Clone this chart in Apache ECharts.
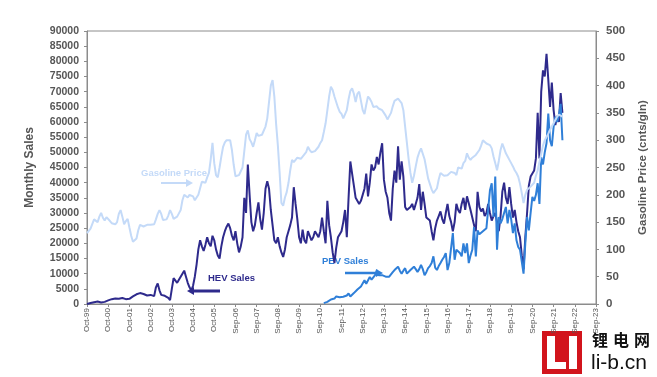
<!DOCTYPE html>
<html>
<head>
<meta charset="utf-8">
<script src="https://cdn.jsdelivr.net/npm/echarts/dist/echarts.min.js"></script>
<style>
html, body { margin: 0; padding: 0; background: #fff; }
#main { width: 657px; height: 377px; }
</style>
</head>
<body>
<div id="main"></div>
<script>
// x axis: months since Oct-99, one tick label every 12 months
var xLabels = ['Oct-99', 'Oct-00', 'Oct-01', 'Oct-02', 'Oct-03', 'Oct-04', 'Oct-05',
    'Sep-06', 'Sep-07', 'Sep-08', 'Sep-09', 'Sep-10', 'Sep-11', 'Sep-12', 'Sep-13',
    'Sep-14', 'Sep-15', 'Sep-16', 'Sep-17', 'Sep-18', 'Sep-19', 'Sep-20', 'Sep-21',
    'Sep-22', 'Sep-23'];

// HEV monthly sales, from month 0 (Oct-99)
var hevStart = 0;
var hevSales = [
    0, 100, 300, 500, 600, 900, 800, 600, 500, 600,
    700, 900, 1200, 1400, 1600, 1700, 1800, 1900, 1700, 2200,
    2000, 1800, 1600, 1700, 1700, 2100, 2500, 2900, 3200, 3400,
    3600, 3500, 3300, 3100, 2800, 3000, 3000, 2800, 2600, 5500,
    6800, 4500, 3000, 2700, 2700, 2300, 2000, 1300, 5000, 8500,
    8000, 7000, 8000, 9000, 10000, 11000, 9000, 7000, 5500, 4500,
    6000, 9000, 13000, 18000, 21000, 19000, 17500, 19500, 22000, 20000,
    19000, 22500, 21000, 18000, 16000, 15000, 19000, 22000, 24000, 25500,
    26500, 25000, 22500, 21000, 24000, 20000, 17000, 19000, 22000, 35000,
    30000, 46000, 36000, 27000, 24000, 26000, 30000, 33500, 28000, 24500,
    30000, 38000, 40500, 38000, 31000, 26000, 21000, 20000, 22000, 19000,
    17000, 15500, 18000, 22000, 24000, 26000, 28500, 38500, 33000, 28000,
    22000, 20000, 24500, 21000, 20000, 24000, 22500, 21000, 22000, 24000,
    23500, 22000, 24000, 28500, 24000, 20000, 34000, 26000, 22000, 17000,
    13500, 18500, 22000, 23000, 24000, 27000, 31000, 22000, 35000, 47000,
    43000, 39000, 35000, 34500, 33000, 34000, 33500, 38000, 43000, 35500,
    40000, 46000, 44000, 45000, 48500, 46000, 50000, 53000, 41000, 37000,
    35000, 30000, 27500, 38000, 44000, 40000, 52000, 41000, 47000, 42000,
    32000, 31000, 31500, 32000, 33000, 31000, 30500, 35000, 39500, 31000,
    37000, 33000, 28500, 29000, 27500, 24000, 21000, 25000, 27500, 29000,
    30500, 28000, 26500, 30000, 33000, 29000, 27000, 24000, 27000, 33000,
    31000, 30000, 33000, 35000, 31000, 35500, 36000, 31000, 28500, 26000,
    24000, 37000, 32000, 30500, 31500, 29000, 30000, 33000, 30000, 27500,
    29000, 30000, 27000, 24000, 29000, 37000, 40000, 35000, 33000, 38500,
    33000, 28500, 31000, 27000, 24000, 22000, 16000, 11500, 22000, 30000,
    39000, 42000, 41500, 44000, 48000, 63000, 48000, 70000, 77000, 75000,
    82500, 74000, 65000, 73000, 64000, 59000, 62000, 60000, 69500, 63000
];

// PEV monthly sales, from month 134 (Dec-10)
var pevStart = 134;
var pevSales = [
    300, 500, 700, 1000, 1500, 1200,
    1800, 2500, 2000, 2200, 2600, 2400, 2000, 2800, 3500, 2500,
    3000, 3600, 4000, 4800, 5200, 5800, 5500, 7800, 6700, 7000,
    8900, 8000, 7800, 9500, 11200, 9500, 8900, 9500, 10000, 9000,
    8400, 9000, 8900, 10500, 11200, 11500, 12300, 11000, 10000, 11000,
    11800, 10000, 10500, 11200, 11800, 12300, 11500, 10600, 11500, 12900,
    11500, 9500, 10500, 11800, 12500, 13500, 15700, 12000, 11200, 12500,
    13500, 14600, 15500, 16800, 11200, 13500, 14000, 23400, 14600, 17900,
    17500, 16800, 15700, 20000, 16800, 20000, 13500, 16000, 17900, 25400,
    15700, 24300, 23000, 23400, 24000, 24300, 25000, 25400, 37500, 39800,
    28700, 42000, 17900, 28700, 26600, 28000, 30000, 32000, 26600, 31000,
    28000, 23400, 26600, 21000, 18800, 17900, 14000, 10000, 20000, 28700,
    24300, 30000, 35300, 34000, 36000, 39800, 33000, 48400, 46000, 50000,
    53000, 62800, 54000, 52000, 58300, 61700, 60000, 62000, 66000, 54000
];

// gasoline price, cents per gallon, from month 0
var gasStart = 0;
var gasPrice = [
    130, 133, 138, 140, 155, 152, 150, 160, 167, 158,
    153, 159, 157, 152, 148, 147, 146, 150, 165, 172,
    160, 146, 152, 156, 140, 125, 114, 116, 120, 135,
    145, 143, 142, 143, 145, 146, 145, 148, 146, 155,
    165, 172, 165, 154, 152, 155, 162, 172, 165, 156,
    154, 160, 166, 172, 190, 200, 197, 195, 200, 203,
    197, 190, 192, 200, 212, 224, 225, 222, 232, 240,
    265, 295, 258, 236, 232, 250, 270, 288, 296, 300,
    302, 300, 282, 255, 234, 232, 236, 235, 250, 280,
    310, 318, 302, 296, 288, 300, 313, 308, 306, 310,
    313, 325, 340, 370, 400, 410, 380, 330, 290, 240,
    185, 180, 195, 205, 222, 245, 264, 260, 258, 268,
    270, 266, 268, 274, 278, 288, 282, 278, 279, 280,
    282, 288, 295, 300, 315, 331, 355, 380, 398, 392,
    380, 378, 360, 352, 348, 340, 337, 355, 375, 390,
    395, 385, 370, 385, 389, 372, 355, 348, 365, 380,
    376, 370, 361, 364, 362, 358, 356, 355, 350, 345,
    338, 340, 350, 362, 372, 375, 376, 372, 368, 355,
    325, 295, 265, 240, 222, 235, 252, 268, 278, 285,
    283, 265, 248, 230, 220, 210, 203, 200, 212, 228,
    240, 242, 235, 233, 236, 238, 242, 245, 240, 236,
    250, 248, 248, 258, 262, 276, 268, 264, 268, 270,
    273, 276, 282, 290, 300, 298, 294, 292, 291, 285,
    270, 258, 245, 262, 282, 294, 285, 276, 270, 264,
    258, 252, 245, 240, 233, 220, 203, 185, 200, 209,
    212, 215, 218, 222, 235, 245, 260, 275, 290, 300,
    306, 312, 319, 325, 331, 337, 343, 347, 350, 343
];

var hevColor = '#2e2a8c';
var pevColor = '#2f7fd8';
var gasColor = '#c4daf8';
var axisColor = '#8c8c8c';
var labelColor = '#555';
var font = '"Liberation Sans", Arial';

function toPairs(start, vals) {
    return vals.map(function (v, i) { return [start + i, v]; });
}

// small arrow: shaft + head pointing at x2
function arrow(x1, x2, y, color, w) {
    var dir = x2 > x1 ? 1 : -1;
    return [
        { type: 'line', shape: { x1: x1, y1: y, x2: x2 - dir * 5, y2: y },
          style: { stroke: color, lineWidth: w }, silent: true },
        { type: 'polygon', shape: { points: [[x2, y], [x2 - dir * 7, y - 4], [x2 - dir * 7, y + 4]] },
          style: { fill: color }, silent: true }
    ];
}

var myChart = echarts.init(document.getElementById('main'));

var annotations = [
    { type: 'text', left: 141, top: 168,
      style: { text: 'Gasoline Price', fill: gasColor, font: 'bold 9.5px ' + font } },
    { type: 'text', left: 208, top: 273,
      style: { text: 'HEV Sales', fill: hevColor, font: 'bold 9.5px ' + font } },
    { type: 'text', left: 322, top: 256,
      style: { text: 'PEV Sales', fill: pevColor, font: 'bold 9.5px ' + font } }
]
    .concat(arrow(161, 193, 183, gasColor, 2))
    .concat(arrow(220, 187, 291, hevColor, 3))
    .concat(arrow(345, 383, 273, pevColor, 2.5));

// watermark logo
var logo = [
    { type: 'rect', shape: { x: 542, y: 331, width: 40, height: 43 }, style: { fill: '#d2141c' } },
    { type: 'rect', shape: { x: 547, y: 336, width: 8, height: 33 }, style: { fill: '#fff' } },
    { type: 'rect', shape: { x: 547, y: 362, width: 19, height: 7 }, style: { fill: '#fff' } },
    { type: 'rect', shape: { x: 569, y: 336, width: 8, height: 33 }, style: { fill: '#fff' } },
    { type: 'text', left: 592, top: 332,
      style: { text: '锂', fill: '#111', font: 'bold 16px "Noto Sans CJK SC"' } },
    { type: 'text', left: 613, top: 332,
      style: { text: '电', fill: '#111', font: 'bold 16px "Noto Sans CJK SC"' } },
    { type: 'text', left: 634, top: 332,
      style: { text: '网', fill: '#111', font: 'bold 16px "Noto Sans CJK SC"' } },
    { type: 'text', left: 591, top: 353,
      style: { text: 'li-b.cn', fill: '#111', font: '21px ' + font } }
];

var option = {
    animation: false,
    backgroundColor: '#fff',
    grid: {
        left: 87, right: 61, top: 31, bottom: 73,
        show: true, borderColor: axisColor, borderWidth: 1
    },
    xAxis: {
        type: 'value',
        min: 0, max: 288, interval: 12,
        axisLine: { show: true, lineStyle: { color: axisColor } },
        axisTick: { show: true, length: 3, lineStyle: { color: axisColor } },
        axisLabel: {
            rotate: 90, fontSize: 8, color: labelColor, margin: 4, fontFamily: font,
            formatter: function (v) { return xLabels[Math.round(v / 12)]; }
        },
        splitLine: { show: false }
    },
    yAxis: [
        {
            type: 'value', min: 0, max: 90000, interval: 5000,
            name: 'Monthly Sales', nameLocation: 'middle', nameGap: 51, nameRotate: 90,
            nameTextStyle: { fontSize: 12, fontWeight: 'bold', color: labelColor, fontFamily: font },
            axisLine: { show: true, lineStyle: { color: axisColor } },
            axisTick: { show: true, length: 3, lineStyle: { color: axisColor } },
            axisLabel: {
                fontSize: 10.5, fontWeight: 'bold', color: labelColor, margin: 8, fontFamily: font,
                formatter: function (v) { return String(v); }
            },
            splitLine: { show: false }
        },
        {
            type: 'value', min: 0, max: 500, interval: 50, position: 'right',
            name: 'Gasoline Price (cnts/gln)', nameLocation: 'middle', nameGap: 41, nameRotate: 90,
            nameTextStyle: { fontSize: 11.5, fontWeight: 'bold', color: labelColor, fontFamily: font },
            axisLine: { show: true, lineStyle: { color: axisColor } },
            axisTick: { show: true, length: 3, lineStyle: { color: axisColor } },
            axisLabel: {
                fontSize: 11.5, fontWeight: 'bold', color: labelColor, margin: 10, fontFamily: font,
                formatter: function (v) { return String(v); }
            },
            splitLine: { show: false }
        }
    ],
    series: [
        {
            name: 'HEV Sales', type: 'line', yAxisIndex: 0, showSymbol: false,
            lineStyle: { color: hevColor, width: 2 }, itemStyle: { color: hevColor },
            data: toPairs(hevStart, hevSales), z: 2
        },
        {
            name: 'PEV Sales', type: 'line', yAxisIndex: 0, showSymbol: false,
            lineStyle: { color: pevColor, width: 2 }, itemStyle: { color: pevColor },
            data: toPairs(pevStart, pevSales), z: 3
        },
        {
            name: 'Gasoline Price', type: 'line', yAxisIndex: 1, showSymbol: false,
            lineStyle: { color: gasColor, width: 2 }, itemStyle: { color: gasColor },
            data: toPairs(gasStart, gasPrice), z: 4
        }
    ],
    graphic: annotations.concat(logo)
};

option && myChart.setOption(option);
</script>
</body>
</html>
